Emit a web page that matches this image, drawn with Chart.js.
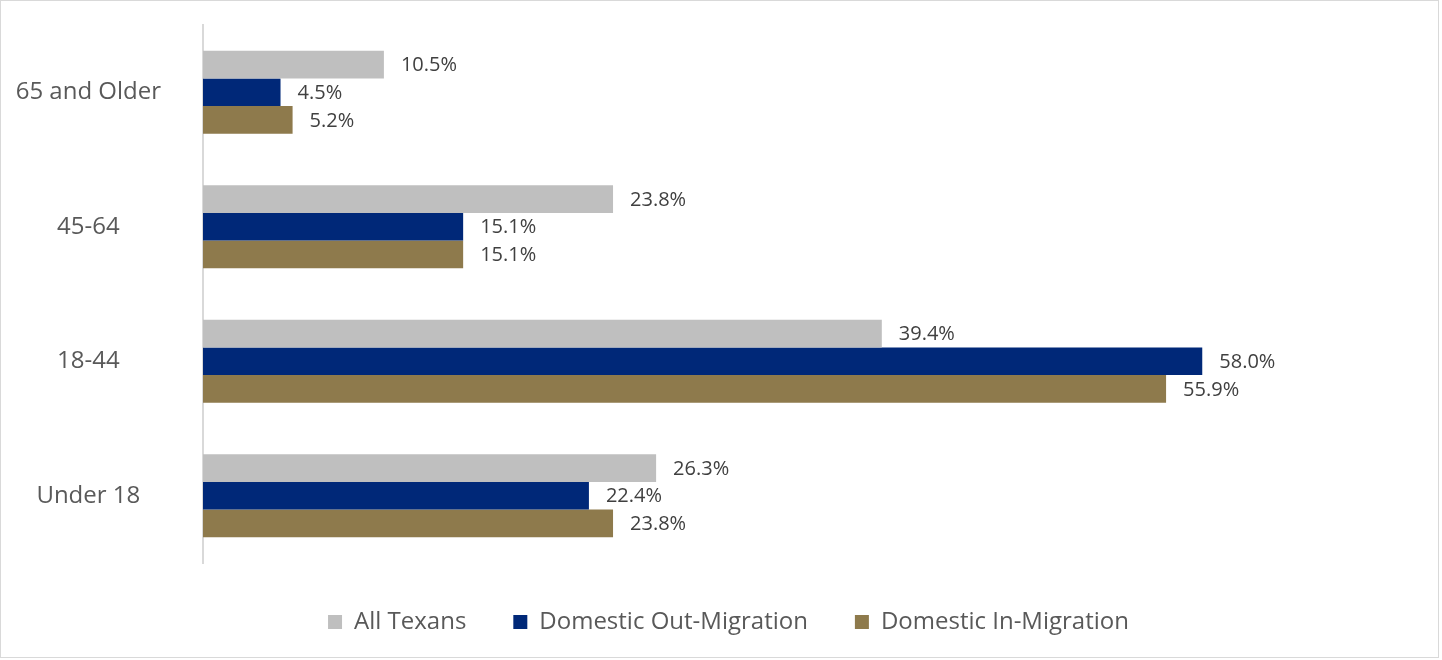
<!DOCTYPE html>
<html>
<head>
<meta charset="utf-8">
<script src="https://cdn.jsdelivr.net/npm/chart.js@4.4.1/dist/chart.umd.min.js"></script>
<style>
  body { margin: 0; background: #fff; }
  .frame { position: absolute; left: 0; top: 0; width: 1437px; height: 656px; border: 1px solid #d9d9d9; }
</style>
</head>
<body>
<div class="frame"><canvas id="chart" width="1437" height="656"></canvas></div>
<script>
// Age groups, top to bottom as shown on the chart.
const ageGroups = ["65 and Older", "45-64", "18-44", "Under 18"];

// Share of each population in every age group (percent).
const allTexans = [10.5, 23.8, 39.4, 26.3];
const outMigration = [4.5, 15.1, 58.0, 22.4];
const inMigration = [5.2, 15.1, 55.9, 23.8];

const fontName = "'Open Sans'";

// Draws the percent next to the end of every bar.
const barLabels = {
  id: "barLabels",
  afterDatasetsDraw(chart) {
    const ctx = chart.ctx;
    ctx.save();
    ctx.font = "20px " + fontName;
    ctx.fillStyle = "#404040";
    ctx.textAlign = "left";
    ctx.textBaseline = "middle";
    chart.data.datasets.forEach((ds, i) => {
      chart.getDatasetMeta(i).data.forEach((bar, j) => {
        ctx.fillText(ds.data[j].toFixed(1) + "%", bar.x + 17, bar.y + 1);
      });
    });
    ctx.restore();
  },
};

// The legend row counts the trailing padding, so nudge it back to the middle.
const centerLegend = {
  id: "centerLegend",
  afterLayout(chart) {
    const shift = chart.options.plugins.legend.labels.padding / 2;
    chart.legend.left += shift;
    chart.legend.right += shift;
  },
};

new Chart(document.getElementById("chart"), {
  type: "bar",
  data: {
    labels: ageGroups,
    datasets: [
      { label: "All Texans", data: allTexans, backgroundColor: "#bfbfbf" },
      { label: "Domestic Out-Migration", data: outMigration, backgroundColor: "#002878" },
      { label: "Domestic In-Migration", data: inMigration, backgroundColor: "#8e7a4c" },
    ],
  },
  options: {
    indexAxis: "y",
    responsive: false,
    animation: false,
    datasets: {
      bar: { categoryPercentage: 0.617, barPercentage: 1.0 },
    },
    layout: { padding: { top: 24, right: 29, left: 0, bottom: 13 } },
    scales: {
      x: { display: false, min: 0, max: 70 },
      y: {
        grid: { display: false, drawTicks: false },
        border: { display: true, color: "#d9d9d9", width: 2 },
        // fixed axis width, and no extra room above/below for the labels
        afterFit(axis) {
          axis.width = 202;
          axis.paddingTop = 0;
          axis.paddingBottom = 0;
        },
        ticks: {
          crossAlign: "center",
          padding: 42,
          color: "#595959",
          font: { family: fontName, size: 24 },
        },
      },
    },
    plugins: {
      tooltip: { enabled: false },
      legend: {
        position: "bottom",
        labels: {
          boxWidth: 14,
          boxHeight: 14,
          padding: 47,
          color: "#595959",
          font: { family: fontName, size: 24 },
        },
      },
    },
  },
  plugins: [barLabels, centerLegend],
});
</script>
</body>
</html>
